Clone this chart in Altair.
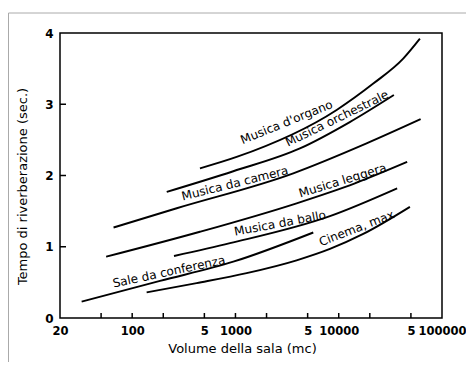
import altair as alt
import pandas as pd

# ---- data ----
series_names = ["Musica d'organo", "Musica orchestrale", "Musica da camera",
                "Musica leggera", "Musica da ballo", "Sale da conferenza", "Cinema, max"]

organo_x = [453, 1027, 9550, 21600, 42100, 61100]
organo_y = [2.10, 2.26, 2.92, 3.29, 3.64, 3.92]

orchestrale_x = [216, 953, 4210, 12800, 34200]
orchestrale_y = [1.77, 2.06, 2.38, 2.75, 3.13]

camera_x = [66, 270, 3630, 18600, 62100]
camera_y = [1.27, 1.54, 2.03, 2.45, 2.79]

leggera_x = [56, 453, 3910, 14350, 46000]
leggera_y = [0.86, 1.21, 1.61, 1.89, 2.19]

ballo_x = [254, 885, 8220, 36800]
ballo_y = [0.87, 1.05, 1.43, 1.82]

conferenza_x = [32.4, 186, 953, 5670]
conferenza_y = [0.23, 0.52, 0.79, 1.20]

cinema_x = [138, 421, 1283, 3910, 8220, 17270, 48900]
cinema_y = [0.36, 0.49, 0.63, 0.81, 0.97, 1.18, 1.56]

# label anchor (centre) and text angle for each curve
label_x = [3130, 9600, 989, 10900, 2700, 227, 14900]
label_y = [2.75, 2.80, 1.89, 1.93, 1.33, 0.65, 1.26]
label_angle = [338, 334, 346, 343, 349.5, 348, 339]

x_label_values = [20, 100, 500, 1000, 5000, 10000, 50000, 100000]
x_tick_values = [50, 100, 200, 500, 1000, 2000, 5000, 10000, 20000, 50000]
y_label_values = [0, 1, 2, 3, 4]
y_tick_values = [1, 2, 3]

# ---- tables ----
curves = [(organo_x, organo_y), (orchestrale_x, orchestrale_y), (camera_x, camera_y),
          (leggera_x, leggera_y), (ballo_x, ballo_y), (conferenza_x, conferenza_y),
          (cinema_x, cinema_y)]
rows = []
for name, (xs, ys) in zip(series_names, curves):
    for i, (xv, yv) in enumerate(zip(xs, ys)):
        rows.append({"series": name, "i": i, "x": xv, "y": yv})
df = pd.DataFrame(rows)

labels_df = pd.DataFrame({"series": series_names, "x": label_x, "y": label_y, "angle": label_angle})
xt_df = pd.DataFrame({"x": x_tick_values})
yt_df = pd.DataFrame({"y": y_tick_values})

FONT = "DejaVu Sans"
W, H = 382, 285

xscale = alt.Scale(type="log", domain=[20, 100000])
yscale = alt.Scale(domain=[0, 4], nice=False)

xaxis = alt.Axis(
    values=x_label_values, ticks=False, domain=False, grid=False,
    labelExpr="indexof([500, 5000, 50000], datum.value) >= 0 ? '5' : format(datum.value, 'd')",
    labelFlush=False, labelOverlap=False, labelPadding=7,
    labelFont=FONT, labelFontSize=11.5, labelFontWeight="bold", labelColor="black",
    title="Volume della sala (mc)", titleFont=FONT, titleFontSize=13,
    titleFontWeight="normal", titleColor="black", titlePadding=6, titleX=182)
yaxis = alt.Axis(
    values=y_label_values, ticks=False, domain=False, grid=False,
    labelPadding=7, labelFont=FONT, labelFontSize=12, labelFontWeight="bold", labelColor="black",
    title="Tempo di riverberazione (sec.)", titleFont=FONT, titleFontSize=13,
    titleFontWeight="normal", titleColor="black", titlePadding=15, titleY=153)

X = lambda: alt.X("x:Q", scale=xscale, axis=xaxis)
Y = lambda: alt.Y("y:Q", scale=yscale, axis=yaxis)

lines = alt.Chart(df).mark_line(color="black", strokeWidth=1.9, interpolate="monotone").encode(
    x=X(), y=Y(), detail="series:N", order="i:O",
)

texts = alt.Chart(labels_df).mark_text(font=FONT, fontSize=12, color="black",
                                       align="center", baseline="middle").encode(
    x=X(), y=Y(),
    angle=alt.Angle("angle:Q", scale=None),
    text="series:N",
)

xticks = alt.Chart(xt_df).mark_rule(color="black", strokeWidth=1.5).encode(
    x=X(), y=alt.value(H), y2=alt.value(H - 5),
)
yticks = alt.Chart(yt_df).mark_rule(color="black", strokeWidth=1.5).encode(
    y=Y(), x=alt.value(0), x2=alt.value(6),
)

frame_v = alt.Chart(xt_df.head(1)).mark_rule(color="#aaaaaa", strokeWidth=1).encode(
    x=alt.value(-51.5), y=alt.value(-20), y2=alt.value(H + 60))
frame_h = alt.Chart(xt_df.head(1)).mark_rule(color="#aaaaaa", strokeWidth=1).encode(
    x=alt.value(-51.5), x2=alt.value(W + 40), y=alt.value(-20))

chart = alt.layer(lines, texts, xticks, yticks, frame_v, frame_h).properties(
    width=W, height=H,
    background="white",
    autosize=alt.AutoSizeParams(type="none"),
    padding={"left": 52, "top": 25, "right": 24, "bottom": 44},
).configure_view(stroke="black", strokeWidth=1.5)

chart.save("out.html", embed_options={"renderer": "svg", "actions": False})
